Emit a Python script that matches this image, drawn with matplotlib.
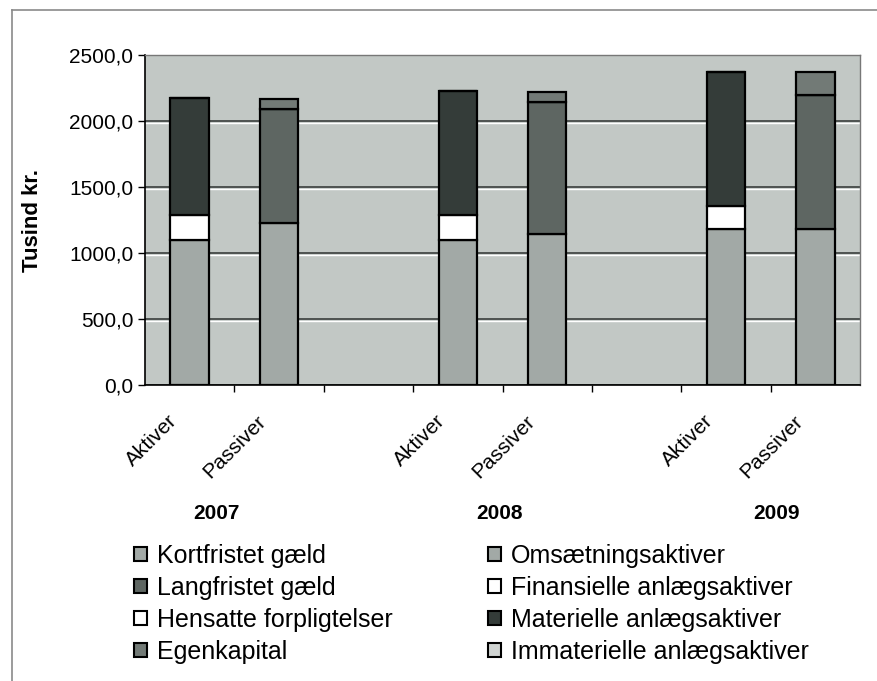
import matplotlib.pyplot as plt
import matplotlib.transforms as mtransforms
from matplotlib.patches import Patch
from matplotlib.lines import Line2D
import numpy as np

plt.rcParams['font.family'] = ['Liberation Sans', 'DejaVu Sans']

# Data (Tusind kr.)
years = ['2007', '2008', '2009']
categories = ['Aktiver', 'Passiver', '', 'Aktiver', 'Passiver', '', 'Aktiver', 'Passiver']

# Aktiver side, one value per year
omsaetning = [1100, 1100, 1180]
finansielle = [190, 185, 178]
materielle = [885, 945, 1016]
immaterielle = [0, 0, 0]

# Passiver side, one value per year
kortfristet = [1227, 1145, 1182]
langfristet = [864, 1000, 1015]
hensatte = [0, 0, 0]
egenkapital = [75, 77, 177]

aktiv_pos = np.array([i for i, c in enumerate(categories) if c == 'Aktiver'])
passiv_pos = np.array([i for i, c in enumerate(categories) if c == 'Passiver'])

c_light = '#a2a9a6'
c_lang = '#5e6662'
c_egen = '#727a76'
c_mat = '#343c39'
c_white = '#ffffff'
c_immat = '#d0d4d2'

fig = plt.figure(figsize=(8.77, 6.81), dpi=100)
ax = fig.add_axes([145 / 877, 296 / 681, 715 / 877, 330 / 681])
ax.set_facecolor('#c2c8c5')

w = 0.43
kw = dict(width=w, edgecolor='black', linewidth=1.6, zorder=3)

bottom = np.zeros(3)
for vals, col in [(omsaetning, c_light), (finansielle, c_white),
                  (materielle, c_mat), (immaterielle, c_immat)]:
    ax.bar(aktiv_pos, vals, bottom=bottom, color=col, **kw)
    bottom += np.array(vals)

bottom = np.zeros(3)
for vals, col in [(kortfristet, c_light), (langfristet, c_lang),
                  (hensatte, c_white), (egenkapital, c_egen)]:
    ax.bar(passiv_pos, vals, bottom=bottom, color=col, **kw)
    bottom += np.array(vals)

ax.set_xlim(-0.5, len(categories) - 0.5)
ax.set_ylim(0, 2500)
yt = np.arange(0, 2501, 500)
ax.set_yticks(yt)
ax.set_yticklabels([f'{v:.1f}'.replace('.', ',') for v in yt], fontsize=15)
ax.yaxis.grid(True, color='#3a3f3d', linewidth=1.2, zorder=1)
ax.set_axisbelow(True)
# thin light line just under each gridline, like the scanned original
shift = ax.transData + mtransforms.ScaledTranslation(0, -2 / 100, fig.dpi_scale_trans)
for v in yt[1:-1]:
    ax.plot([-0.5, len(categories) - 0.5], [v, v], color='white', linewidth=1.0,
            zorder=1.5, transform=shift)

# category boundaries as major ticks, labels on minor ticks
ax.set_xticks(np.arange(0.5, len(categories) - 0.5, 1))
ax.set_xticklabels([])
lab_pos = [i for i, c in enumerate(categories) if c]
ax.set_xticks(lab_pos, minor=True)
ax.set_xticklabels([categories[i] for i in lab_pos], minor=True, rotation=45,
                   ha='right', va='top', fontsize=15)
ax.tick_params(axis='x', which='minor', length=0, pad=19)
ax.tick_params(axis='both', which='major', direction='out', length=5, width=1, color='black')
offset = mtransforms.ScaledTranslation(-9 / 100, 0, fig.dpi_scale_trans)
for lbl in ax.get_xticklabels(minor=True):
    lbl.set_transform(lbl.get_transform() + offset)

ax.set_ylabel('Tusind kr.', fontsize=16, fontweight='bold')
ax.yaxis.set_label_coords(-0.143, 0.5)

for s in ['left', 'bottom']:
    ax.spines[s].set_color('black')
    ax.spines[s].set_linewidth(1.2)
for s in ['top', 'right']:
    ax.spines[s].set_color('#777777')
    ax.spines[s].set_linewidth(1.0)

# year labels under each group
year_x = [0.3, 3.47, 6.57]
trans = mtransforms.blended_transform_factory(ax.transData, ax.transAxes)
for x, yr in zip(year_x, years):
    ax.text(x, -0.39, yr, transform=trans, ha='center', va='center',
            fontsize=15, fontweight='bold')

# legend, two columns
left_names = ['Kortfristet gæld', 'Langfristet gæld', 'Hensatte forpligtelser', 'Egenkapital']
left_cols = [c_light, c_lang, c_white, c_egen]
right_names = ['Omsætningsaktiver', 'Finansielle anlægsaktiver', 'Materielle anlægsaktiver',
               'Immaterielle anlægsaktiver']
right_cols = [c_light, c_white, c_mat, c_immat]

leg_kw = dict(loc='upper left', frameon=False, fontsize=18, handlelength=0.52,
              handleheight=0.52, handletextpad=0.4, labelspacing=0.32, borderpad=0,
              borderaxespad=0)
h1 = [Patch(facecolor=c, edgecolor='black', linewidth=1.5) for c in left_cols]
h2 = [Patch(facecolor=c, edgecolor='black', linewidth=1.5) for c in right_cols]
fig.legend(h1, left_names, bbox_to_anchor=(134 / 877, 1 - 544 / 681), **leg_kw)
fig.legend(h2, right_names, bbox_to_anchor=(488 / 877, 1 - 544 / 681), **leg_kw)

# chart area frame (left and top edges visible)
fig.add_artist(Line2D([12 / 877, 12 / 877], [0, 1 - 10 / 681], transform=fig.transFigure,
                      color='#8a8a8a', linewidth=1.2))
fig.add_artist(Line2D([12 / 877, 1], [1 - 10 / 681, 1 - 10 / 681], transform=fig.transFigure,
                      color='#8a8a8a', linewidth=1.2))

fig.savefig('out.png', dpi=100)
